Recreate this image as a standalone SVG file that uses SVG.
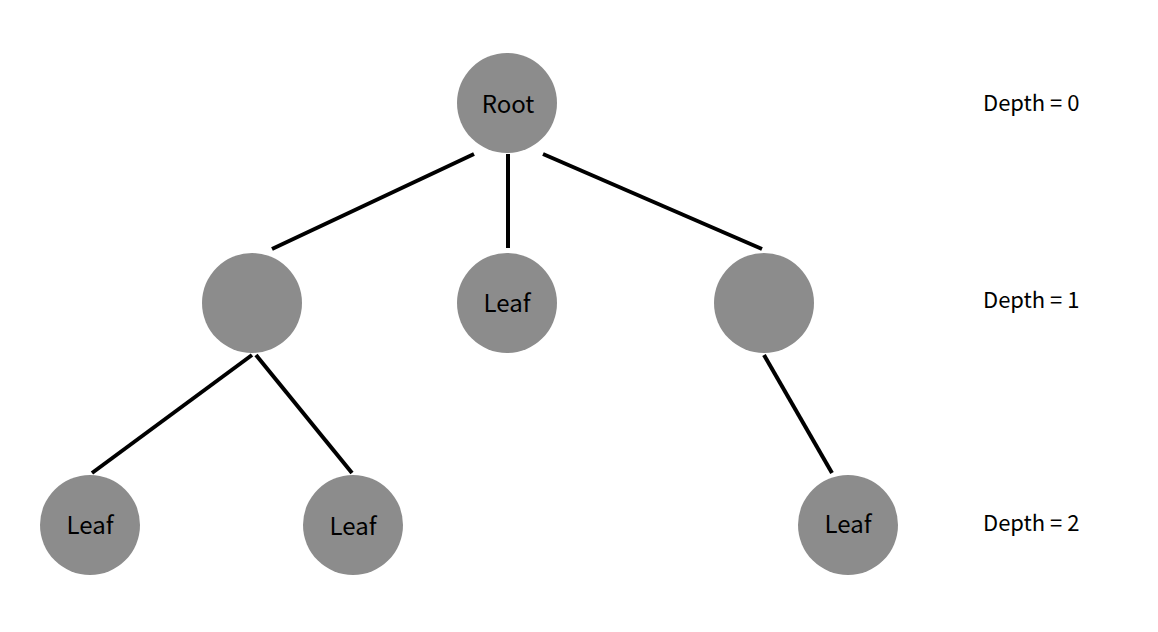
<svg xmlns="http://www.w3.org/2000/svg" width="1158" height="632" viewBox="0 0 1158 632">
<style>
.n{fill:#8c8c8c}
.t{font-family:"Noto Sans CJK KR","Noto Sans",sans-serif;font-size:24px;fill:#000;text-anchor:middle;dominant-baseline:central}
.d{font-family:"Noto Sans CJK KR","Noto Sans",sans-serif;font-size:22px;fill:#000;dominant-baseline:central}
.e{stroke:#000;stroke-width:4;fill:none}
</style>
<rect width="1158" height="632" fill="#fff"/>
<g id="connectors">
<line class="e" x1="474" y1="154" x2="272" y2="249"/>
<line class="e" x1="508" y1="154" x2="508" y2="248"/>
<line class="e" x1="543" y1="154" x2="762" y2="249"/>
<line class="e" x1="252" y1="355" x2="92" y2="473"/>
<line class="e" x1="256" y1="355" x2="352" y2="473"/>
<line class="e" x1="764" y1="355" x2="832" y2="473"/>
</g>
<g id="root"><circle class="n" cx="507" cy="103" r="50"/><text class="t" x="508" y="102">Root</text></g>
<g id="n1"><circle class="n" cx="252" cy="303" r="50"/></g>
<g id="n2"><circle class="n" cx="507" cy="303" r="50"/><text class="t" x="507" y="301">Leaf</text></g>
<g id="n3"><circle class="n" cx="764" cy="303" r="50"/></g>
<g id="n4"><circle class="n" cx="90" cy="525" r="50"/><text class="t" x="90" y="523">Leaf</text></g>
<g id="n5"><circle class="n" cx="353" cy="525" r="50"/><text class="t" x="353" y="524">Leaf</text></g>
<g id="n6"><circle class="n" cx="848" cy="525" r="50"/><text class="t" x="848" y="522">Leaf</text></g>
<g id="depths">
<text class="d" x="983" y="101">Depth = 0</text>
<text class="d" x="983" y="298">Depth = 1</text>
<text class="d" x="983" y="521">Depth = 2</text>
</g>
</svg>
